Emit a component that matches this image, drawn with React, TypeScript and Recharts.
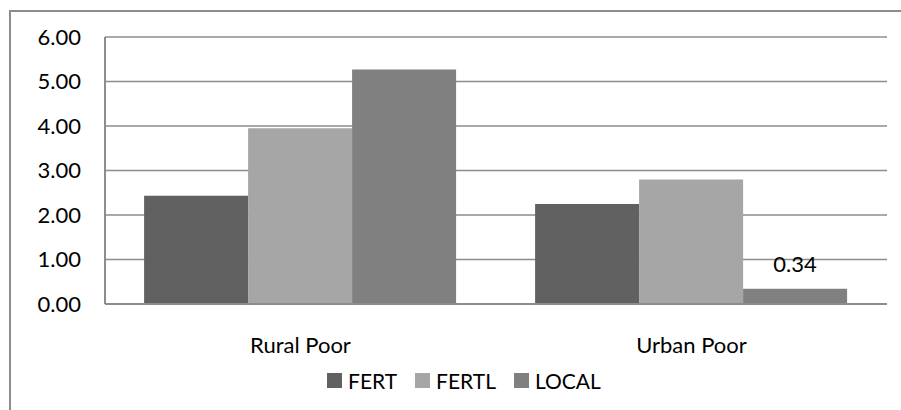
import { BarChart, Bar, XAxis, YAxis, CartesianGrid, LabelList } from 'recharts';

const categories = ['Rural Poor', 'Urban Poor'];
const fert = [2.43, 2.25];
const fertl = [3.95, 2.8];
const local = [5.27, 0.34];
const yTicks = [0, 1, 2, 3, 4, 5, 6];

const series = [
  { key: 'FERT', values: fert, color: '#616161' },
  { key: 'FERTL', values: fertl, color: '#a6a6a6' },
  { key: 'LOCAL', values: local, color: '#808080' },
];

const data = categories.map((name, i) => ({
  name,
  FERT: fert[i],
  FERTL: fertl[i],
  LOCAL: local[i],
}));

const FONT = 'Lato, "Open Sans", sans-serif';

const LocalLabel = (props: any) => {
  const { x, y, width, index, value } = props;
  // only the urban LOCAL bar carries a label in the original
  if (index !== 1) return null;
  return (
    <text x={x + width / 2} y={y - 17} textAnchor="middle" fill="#000" fontSize={22} fontFamily={FONT}>
      {Number(value).toFixed(2)}
    </text>
  );
};

export default function App() {
  return (
    <div style={{ position: 'absolute', left: 0, top: 0, width: 901, height: 410, overflow: 'hidden', background: '#fff' }}>
      <div
        style={{
          position: 'absolute',
          left: 9,
          top: 10,
          width: 1000,
          height: 1000,
          border: '2px solid #8c8c8c',
        }}
      />
      <div style={{ position: 'absolute', left: 0, top: 0 }}>
        <BarChart
          width={901}
          height={410}
          data={data}
          margin={{ top: 37, right: 14, left: 0, bottom: 46 }}
          barCategoryGap="10%"
          barGap={0}
        >
          <CartesianGrid vertical={false} stroke="#8c8c8c" strokeWidth={1.5} />
          <XAxis
            dataKey="name"
            height={60}
            tickLine={false}
            tickSize={0}
            tickMargin={33}
            axisLine={{ stroke: '#8c8c8c', strokeWidth: 2 }}
            tick={{ fill: '#000', fontSize: 22, fontFamily: FONT }}
          />
          <YAxis
            width={105}
            domain={[0, 6]}
            ticks={yTicks}
            tickFormatter={(v) => Number(v).toFixed(2)}
            tickLine={false}
            tickSize={0}
            tickMargin={24}
            axisLine={{ stroke: '#8c8c8c', strokeWidth: 2 }}
            tick={{ fill: '#000', fontSize: 22, fontFamily: FONT }}
          />
          {series.map((s) => (
            <Bar key={s.key} dataKey={s.key} fill={s.color} isAnimationActive={false}>
              {s.key === 'LOCAL' && <LabelList dataKey="LOCAL" content={LocalLabel} />}
            </Bar>
          ))}
        </BarChart>
      </div>
      <div
        style={{
          position: 'absolute',
          left: 327,
          top: 368,
          display: 'flex',
          alignItems: 'center',
          fontFamily: FONT,
          fontSize: 21,
          color: '#000',
        }}
      >
        {series.map((s) => (
          <div key={s.key} style={{ display: 'flex', alignItems: 'center', marginRight: 18 }}>
            <span style={{ display: 'inline-block', width: 15, height: 15, background: s.color, marginRight: 6 }} />
            <span>{s.key}</span>
          </div>
        ))}
      </div>
    </div>
  );
}
